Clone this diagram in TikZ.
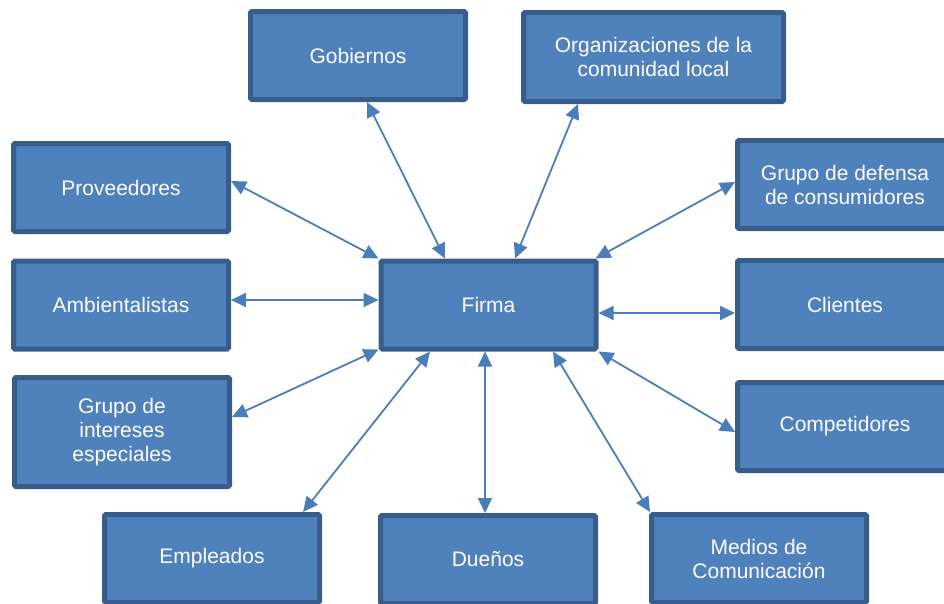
\documentclass[tikz,border=0pt]{standalone}
\usepackage{fontspec}
\setmainfont{Liberation Sans}
\usetikzlibrary{arrows.meta}
\definecolor{BoxBlue}{RGB}{79,129,189}
\definecolor{BoxEdge}{RGB}{56,93,138}
\definecolor{LinkBlue}{RGB}{74,126,187}
\tikzset{actor/.style={rectangle, draw=BoxEdge, fill=BoxBlue, line width=5pt, rounded corners=1.5pt,
    minimum width=215pt, minimum height=88pt, inner sep=0pt, text=white, align=center,
    font=\fontsize{21}{24}\selectfont}}
\tikzset{link/.style={{Triangle[length=15pt,width=14pt]}-{Triangle[length=15pt,width=14pt]}, line width=1.8pt, draw=LinkBlue}}

\begin{document}
\begin{tikzpicture}[x=1pt, y=-1pt]
  \path[use as bounding box, clip] (0,0) rectangle (944,603);

  % --- centre ---
  \node[actor] (firma) at (488.5,305) {Firma};

  % --- upper row ---
  \node[actor] (gob) at (358,55.5) {Gobiernos};
  \node[actor, minimum width=260pt, minimum height=89pt] (org) at (653.5,57) {Organizaciones de la\\comunidad local};

  % --- left column ---
  \node[actor] (prov) at (121,187.5) {Proveedores};
  \node[actor] (amb) at (121,305) {Ambientalistas};
  \node[actor, minimum height=109pt] (esp) at (122,432) {Grupo de\\intereses\\especiales};

  % --- right column ---
  \node[actor] (def) at (845,184.5) {Grupo de defensa\\de consumidores};
  \node[actor] (cli) at (845,304.5) {Clientes};
  \node[actor] (comp) at (845,426.5) {Competidores};

  % --- lower row ---
  \node[actor] (emp) at (212,558.5) {Empleados};
  \node[actor] (due) at (488,559.5) {Dueños};
  \node[actor] (med) at (759,558.5) {Medios de\\Comunicación};

  % --- links ---
  \draw[link] ([xshift=9pt]gob.south) -- ([xshift=-43.5pt]firma.north);
  \draw[link] ([xshift=-75.5pt]org.south) -- ([xshift=26.5pt]firma.north);
  \draw[link] ([yshift=6.5pt]prov.east) -- (firma.north west);
  \draw[link] ([yshift=5pt]amb.east) -- ([yshift=5pt]firma.west);
  \draw[link] ([yshift=15pt]esp.east) -- ([yshift=2pt]firma.south west);
  \draw[link] ([xshift=91pt]emp.north) -- ([xshift=-58.5pt]firma.south);
  \draw[link] ([xshift=-3pt]due.north) -- ([xshift=-3.5pt]firma.south);
  \draw[link] ([xshift=1pt]med.north west) -- ([xshift=64.5pt]firma.south);
  \draw[link] ([yshift=-5.5pt]comp.west) -- (firma.south east);
  \draw[link] ([yshift=-8.5pt]cli.west) -- ([yshift=-8pt]firma.east);
  \draw[link] ([yshift=2.5pt]def.west) -- ([xshift=-3pt]firma.north east);
\end{tikzpicture}
\end{document}
